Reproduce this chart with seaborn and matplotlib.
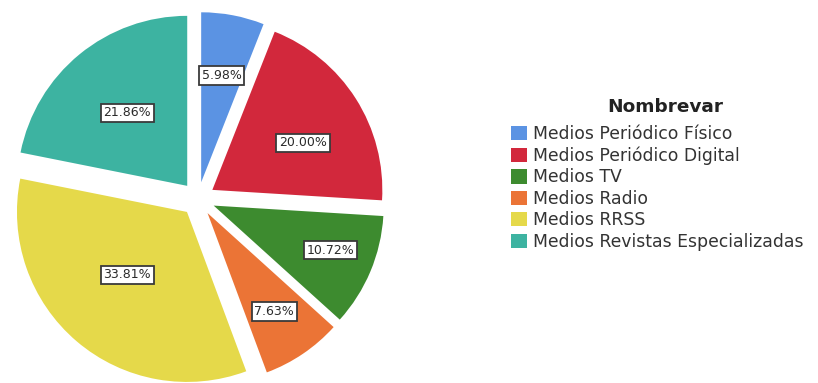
import matplotlib
matplotlib.use("Agg")
import matplotlib.pyplot as plt
import matplotlib.patches as mpatches
import numpy as np
import seaborn as sns

categories = [
    "Medios Periódico Físico",
    "Medios Periódico Digital",
    "Medios TV",
    "Medios Radio",
    "Medios RRSS",
    "Medios Revistas Especializadas",
]
percentages = [5.98, 20.00, 10.72, 7.63, 33.81, 21.86]
legend_title = "Nombrevar"

sns.set_theme(style="white")
plt.rcParams["font.family"] = ["DejaVu Sans"]

palette = sns.color_palette(
    ["#5b93e3", "#d2283c", "#3d8b2f", "#eb7436", "#e5d94a", "#3db3a1"]
)

W, H = 818, 383
fig = plt.figure(figsize=(W / 100, H / 100), dpi=100)

# pie axes in pixel units: radius 170 px, centre at (198, 184) from bottom-left
R_PX = 170.0
CX, CY = 198.0, 184.0
AX_W = 410.0
ax = fig.add_axes([0, 0, AX_W / W, 1.0])

explode = [0.1] * len(percentages)
label_r = [0.64, 0.60, 0.735, 0.70, 0.51, 0.555]
label_shift = [0, -5, 2, 0, -3, 0]  # degrees, nudges along the arc

wedges, _ = ax.pie(
    percentages,
    colors=palette,
    startangle=90,
    counterclock=False,
    explode=explode,
    wedgeprops=dict(linewidth=0),
)

for w, pct, r, ex, sh in zip(wedges, percentages, label_r, explode, label_shift):
    mid = np.deg2rad((w.theta1 + w.theta2) / 2)
    cx, cy = ex * np.cos(mid), ex * np.sin(mid)
    a = mid + np.deg2rad(sh)
    ax.text(
        cx + r * np.cos(a), cy + r * np.sin(a), f"{pct:.2f}%",
        ha="center", va="center", fontsize=9, color="#2a2a2a",
        bbox=dict(boxstyle="square,pad=0.22", facecolor="white",
                  edgecolor="#3a3a3a", linewidth=1.3),
    )

ax.set_aspect("auto")
ax.set_xlim(-CX / R_PX, (AX_W - CX) / R_PX)
ax.set_ylim(-CY / R_PX, (H - CY) / R_PX)
ax.axis("off")

handles = [
    mpatches.Patch(facecolor=c, edgecolor="none", label=lab)
    for c, lab in zip(palette, categories)
]
leg = fig.legend(
    handles=handles,
    loc="upper left",
    bbox_to_anchor=(511 / W, 1 - 125 / H),
    frameon=False,
    fontsize=12.4,
    handlelength=0.9,
    handleheight=0.9,
    handletextpad=0.35,
    labelspacing=0.2,
    borderaxespad=0,
    borderpad=0,
)
for t in leg.get_texts():
    t.set_color("#333333")

fig.text(665 / W, 1 - 107 / H, legend_title, ha="center", va="center",
         fontsize=13.3, fontweight="bold", color="#222222")

fig.savefig("out.png", dpi=100)
